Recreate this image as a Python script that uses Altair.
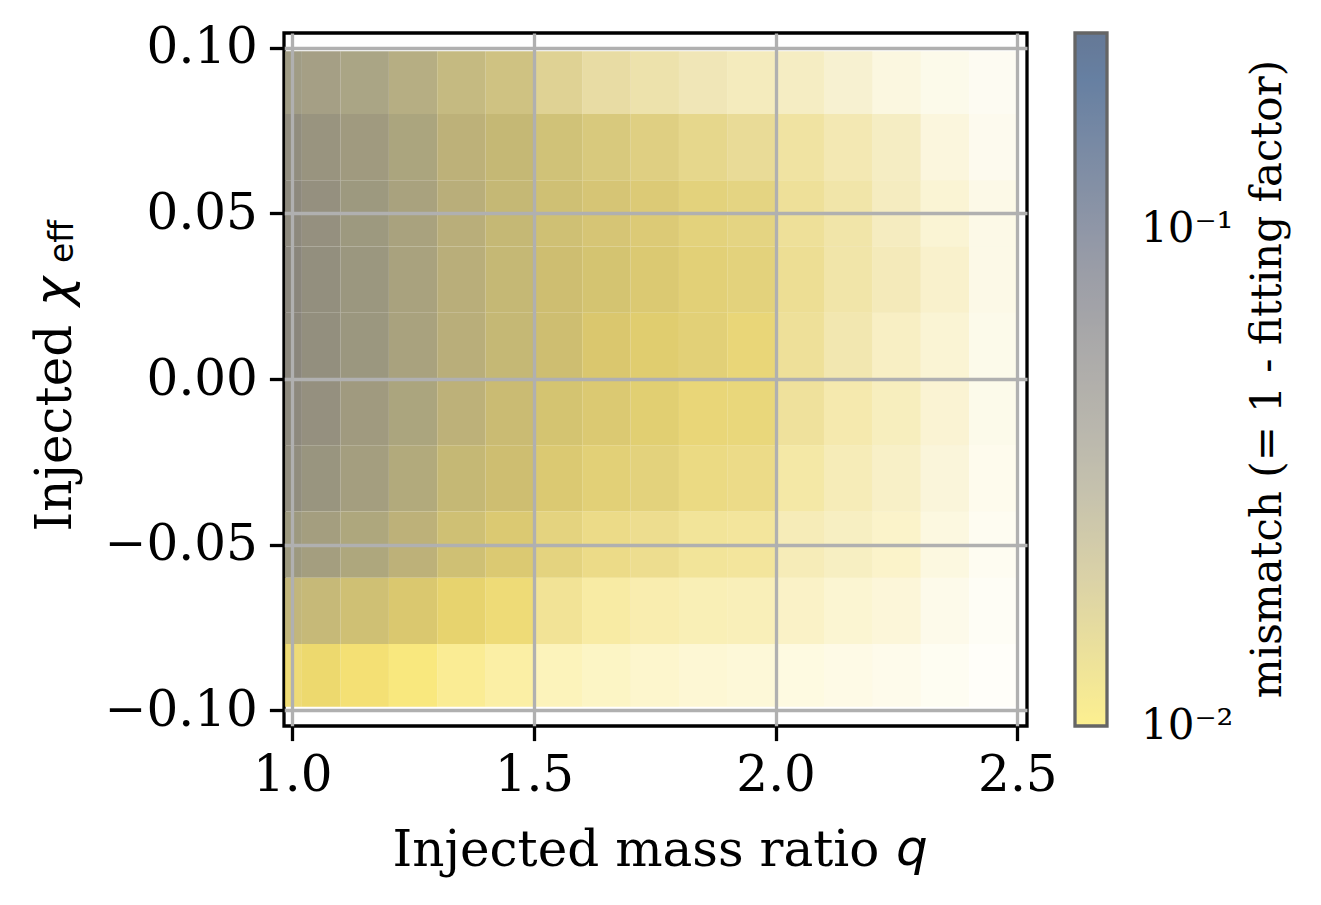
import altair as alt
import pandas as pd

# Bin edges of the summary grid
Q_EDGES = [0.985, 1.02, 1.1, 1.2, 1.3, 1.4, 1.5, 1.6, 1.7, 1.8, 1.9, 2.0, 2.1, 2.2, 2.3, 2.4, 2.5]
CHI_EDGES = [0.099, 0.08, 0.06, 0.04, 0.02, 0.0, -0.02, -0.04, -0.06, -0.08, -0.099]

# Typical mismatch per cell (rows: top -> bottom in chi_eff, columns: q bins)
MISMATCH = [
    [0.034, 0.032, 0.029, 0.025, 0.021, 0.019, 0.017, 0.016, 0.015, 0.015, 0.014, 0.014, 0.014, 0.013, 0.013, 0.013],
    [0.040, 0.036, 0.032, 0.027, 0.022, 0.020, 0.018, 0.017, 0.016, 0.015, 0.015, 0.014, 0.014, 0.014, 0.013, 0.013],
    [0.043, 0.038, 0.033, 0.028, 0.023, 0.020, 0.018, 0.017, 0.016, 0.015, 0.015, 0.014, 0.014, 0.014, 0.013, 0.013],
    [0.045, 0.039, 0.034, 0.028, 0.023, 0.020, 0.018, 0.017, 0.016, 0.015, 0.015, 0.014, 0.014, 0.014, 0.013, 0.013],
    [0.045, 0.039, 0.034, 0.028, 0.023, 0.020, 0.018, 0.016, 0.015, 0.015, 0.014, 0.014, 0.014, 0.013, 0.013, 0.013],
    [0.043, 0.038, 0.032, 0.027, 0.022, 0.019, 0.017, 0.016, 0.015, 0.014, 0.014, 0.014, 0.013, 0.013, 0.013, 0.013],
    [0.040, 0.035, 0.030, 0.025, 0.020, 0.018, 0.016, 0.015, 0.015, 0.014, 0.014, 0.013, 0.013, 0.013, 0.013, 0.012],
    [0.033, 0.030, 0.026, 0.022, 0.018, 0.016, 0.015, 0.014, 0.014, 0.013, 0.013, 0.013, 0.013, 0.012, 0.012, 0.012],
    [0.021, 0.020, 0.018, 0.016, 0.014, 0.013, 0.013, 0.012, 0.012, 0.012, 0.012, 0.012, 0.012, 0.012, 0.012, 0.012],
    [0.013, 0.013, 0.012, 0.011, 0.011, 0.011, 0.011, 0.011, 0.011, 0.011, 0.011, 0.011, 0.011, 0.011, 0.011, 0.011],
]

# Fraction of each cell covered by injections
COVERAGE = [
    [0.90, 0.90, 0.90, 0.90, 0.88, 0.85, 0.70, 0.58, 0.52, 0.45, 0.40, 0.36, 0.28, 0.18, 0.12, 0.08],
    [0.95, 0.95, 0.95, 0.95, 0.95, 0.95, 0.90, 0.85, 0.80, 0.72, 0.65, 0.56, 0.46, 0.36, 0.20, 0.10],
    [0.95, 0.95, 0.95, 0.95, 0.95, 0.95, 0.93, 0.90, 0.88, 0.82, 0.78, 0.62, 0.52, 0.38, 0.25, 0.14],
    [0.95, 0.95, 0.95, 0.95, 0.95, 0.95, 0.95, 0.93, 0.90, 0.85, 0.82, 0.65, 0.52, 0.42, 0.30, 0.14],
    [0.95, 0.95, 0.95, 0.95, 0.95, 0.95, 0.95, 0.93, 0.90, 0.85, 0.82, 0.62, 0.48, 0.35, 0.25, 0.12],
    [0.95, 0.95, 0.95, 0.95, 0.95, 0.95, 0.93, 0.90, 0.88, 0.82, 0.80, 0.60, 0.48, 0.38, 0.26, 0.12],
    [0.95, 0.95, 0.95, 0.95, 0.95, 0.95, 0.90, 0.85, 0.82, 0.75, 0.72, 0.52, 0.42, 0.33, 0.22, 0.10],
    [0.95, 0.95, 0.95, 0.95, 0.93, 0.90, 0.80, 0.72, 0.68, 0.60, 0.58, 0.42, 0.36, 0.30, 0.18, 0.08],
    [0.92, 0.93, 0.93, 0.92, 0.88, 0.80, 0.62, 0.52, 0.46, 0.42, 0.40, 0.32, 0.26, 0.22, 0.12, 0.06],
    [0.80, 0.85, 0.80, 0.72, 0.60, 0.50, 0.38, 0.32, 0.28, 0.24, 0.22, 0.17, 0.14, 0.11, 0.07, 0.03],
]

X_TICKS = [1.0, 1.5, 2.0, 2.5]
Y_TICKS = [-0.10, -0.05, 0.0, 0.05, 0.10]
CBAR_TICKS = [0.01001, 0.1]

rows = []
for i in range(len(CHI_EDGES) - 1):
    for j in range(len(Q_EDGES) - 1):
        rows.append({
            "q0": Q_EDGES[j], "q1": Q_EDGES[j + 1],
            "c0": CHI_EDGES[i + 1], "c1": CHI_EDGES[i],
            "mismatch": MISMATCH[i][j], "coverage": COVERAGE[i][j],
        })
df = pd.DataFrame(rows)

SERIF = "DejaVu Serif"
common_axis = dict(
    grid=True, gridColor="#b0b0b0", gridWidth=3.3, domain=False,
    tickSize=14.6, tickWidth=3.3, tickColor="black",
    labelFont=SERIF, labelFontSize=50, labelColor="black",
    titleFont=SERIF, titleFontSize=50, titleFontWeight="normal", titleColor="black",
    zindex=1, labelOverlap=False,
)

cells = alt.Chart(df).mark_rect(strokeWidth=0).encode(
    x=alt.X("q0:Q",
            scale=alt.Scale(domain=[0.983, 2.52], nice=False, zero=False),
            axis=alt.Axis(values=X_TICKS, format=".1f", labelFlush=False, labelPadding=10,
                          title="Injected mass ratio", titleAlign="left", titleBaseline="alphabetic",
                          titleX=108, titleY=139, **common_axis)),
    x2="q1:Q",
    y=alt.Y("c0:Q",
            scale=alt.Scale(domain=[-0.1048, 0.1045], nice=False, zero=False),
            axis=alt.Axis(values=Y_TICKS, format=".2f", labelFlush=False, labelPadding=12,
                          title="Injected", titleAngle=270, titleAlign="left", titleBaseline="alphabetic",
                          titleX=-214, titleY=498, **common_axis)),
    y2="c1:Q",
    color=alt.Color("mismatch:Q",
                    scale=alt.Scale(type="log", domain=[0.01, 0.248], scheme="cividis", reverse=True),
                    legend=alt.Legend(
                        orient="none", legendX=791, legendY=0, direction="vertical",
                        gradientLength=693, gradientThickness=32,
                        gradientStrokeColor="black", gradientStrokeWidth=3.3, gradientOpacity=0.6,
                        values=CBAR_TICKS,
                        labelExpr="datum.value < 0.05 ? '10⁻²' : '10⁻¹'",
                        labelFont=SERIF, labelFontSize=42, labelColor="black", labelOffset=34,
                        labelBaseline="middle", title=None, padding=0)),
    opacity=alt.Opacity("coverage:Q",
                        scale=alt.Scale(type="linear", domain=[0, 1], range=[0, 1]),
                        legend=None),
)

chi_txt = alt.Chart(pd.DataFrame({"t": ["χ"]})).mark_text(
    font="DejaVu Sans", fontStyle="italic", fontSize=50, angle=270, align="left",
    baseline="alphabetic", color="black",
).encode(x=alt.value(-214), y=alt.value(273), text="t:N")

eff_txt = alt.Chart(pd.DataFrame({"t": ["eff"]})).mark_text(
    font="DejaVu Sans", fontSize=33, angle=270, align="left",
    baseline="alphabetic", color="black",
).encode(x=alt.value(-211), y=alt.value(230), text="t:N")

q_txt = alt.Chart(pd.DataFrame({"t": ["q"]})).mark_text(
    font="DejaVu Sans", fontStyle="italic", fontSize=50, align="left",
    baseline="alphabetic", color="black",
).encode(x=alt.value(612), y=alt.value(832), text="t:N")

cbar_title = alt.Chart(pd.DataFrame({"t": ["mismatch (= 1 - fitting factor)"]})).mark_text(
    font=SERIF, fontSize=42, angle=270, align="center", baseline="top", color="black",
).encode(x=alt.value(964), y=alt.value(346), text="t:N")

chart = alt.layer(cells, chi_txt, eff_txt, q_txt, cbar_title).properties(
    width=743, height=693,
    autosize=alt.AutoSizeParams(type="none"),
    padding={"left": 276, "top": 25, "right": 286, "bottom": 170},
    background="white",
).configure_view(stroke="black", strokeWidth=3.3)

chart.save("out.html", embed_options={"renderer": "svg", "actions": False})
